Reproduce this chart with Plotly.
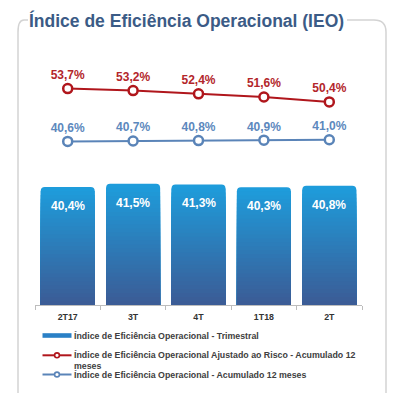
import plotly.graph_objects as go

categories = ["2T17", "3T", "4T", "1T18", "2T"]
ieo_trimestral = [40.4, 41.5, 41.3, 40.3, 40.8]
ieo_risco_12m = [53.7, 53.2, 52.4, 51.6, 50.4]
ieo_12m = [40.6, 40.7, 40.8, 40.9, 41.0]

name_trim = "Índice de Eficiência Operacional - Trimestral"
name_risco = "Índice de Eficiência Operacional Ajustado ao Risco - Acumulado 12<br>meses"
name_12m = "Índice de Eficiência Operacional - Acumulado 12 meses"

def fmt(v):
    return f"{v:.1f}%".replace(".", ",")

# page offset (default body margin) and window size
OFF = 8
WIN_W, WIN_H = 397, 393
FIG_W, FIG_H = WIN_W - OFF, WIN_H - OFF
# plot area in screen pixels
L, R, T, B = 35, 362, 60, 305
PW, PH = R - L, B - T

def px(x):
    return (x - L) / PW

def py(y):
    return (B - y) / PH

RED = "#B0161C"
BLUE_LINE = "#5A84B8"
LEG_BAR = "rgb(42,128,198)"
FONT = "Liberation Sans"

fig = go.Figure()

# gradient bars: overlaid layers (top light blue -> bottom dark blue)
top_rgb = (30, 156, 219)
bot_rgb = (59, 92, 150)
N = 30
for i in range(N):
    f = 1 - i / N
    t = i / (N - 1)
    c = tuple(round(top_rgb[k] + (bot_rgb[k] - top_rgb[k]) * t) for k in range(3))
    fig.add_trace(go.Bar(
        x=categories, y=[v * f for v in ieo_trimestral],
        name=name_trim if i == 0 else None,
        marker=dict(color=f"rgb{c}", line=dict(width=0),
                    cornerradius=4 if i == 0 else 0),
        showlegend=False, hoverinfo="skip", yaxis="y",
    ))

fig.add_trace(go.Scatter(
    x=categories, y=ieo_risco_12m, yaxis="y2", name=name_risco,
    mode="lines+markers+text", showlegend=False,
    text=[fmt(v) for v in ieo_risco_12m], textposition="top center",
    textfont=dict(color="#B3262B", size=12, family=FONT, weight="bold"),
    line=dict(color=RED, width=2),
    marker=dict(symbol="circle", size=9, color="white",
                line=dict(color=RED, width=2.5)),
))

fig.add_trace(go.Scatter(
    x=categories, y=ieo_12m, yaxis="y2", name=name_12m,
    mode="lines+markers+text", showlegend=False,
    text=[fmt(v) for v in ieo_12m], textposition="top center",
    textfont=dict(color="#5C88BD", size=12, family=FONT, weight="bold"),
    line=dict(color=BLUE_LINE, width=2),
    marker=dict(symbol="circle", size=9, color="white",
                line=dict(color=BLUE_LINE, width=2.5)),
))

# bar value labels
for c, v in zip(categories, ieo_trimestral):
    fig.add_annotation(
        x=c, y=v, xref="x", yref="y", yanchor="top", yshift=-10,
        text=fmt(v), showarrow=False,
        font=dict(color="white", size=12, family=FONT, weight="bold"),
    )

# title
fig.add_annotation(
    x=px(27), y=py(20), xref="paper", yref="paper", xanchor="left", yanchor="middle",
    text="Índice de Eficiência Operacional (IEO)", showarrow=False,
    font=dict(color="#3B5B86", size=17.5, family=FONT, weight="bold"),
)

# frame (rounded box, interrupted by the title)
rx, ry = 12 / PW, 12 / PH
x0, x1 = px(18), px(386)
y0, y1 = py(20), py(420)
frame_col = "#D3D3D3"
fig.add_shape(type="path", xref="paper", yref="paper",
              path=f"M {x0} {y1} L {x0} {y0 - ry} Q {x0} {y0} {x0 + rx/2} {y0} L {px(28)} {y0}",
              line=dict(color=frame_col, width=1.5))
fig.add_shape(type="path", xref="paper", yref="paper",
              path=f"M {px(347)} {y0} L {x1 - rx} {y0} Q {x1} {y0} {x1} {y0 - ry} L {x1} {y1}",
              line=dict(color=frame_col, width=1.5))

# legend (drawn as a key below the chart)
LEG_X0, LEG_X1, LEG_TX, LEG_MX = 42.5, 71.5, 72.5, 57
leg_font = dict(size=8.8, color="#404040", family=FONT, weight="bold")
legend_rows = [
    ("bar", LEG_BAR, name_trim, 335.5, 335.6),
    ("line", RED, name_risco, 355.3, 360.0),
    ("line", BLUE_LINE, name_12m, 374.5, 374.9),
]
for kind, col, label, sy, ty in legend_rows:
    if kind == "bar":
        fig.add_shape(type="rect", xref="paper", yref="paper",
                      x0=px(LEG_X0), x1=px(LEG_X1), y0=py(sy + 2.3), y1=py(sy - 2.3),
                      fillcolor=col, line=dict(width=0))
    else:
        fig.add_shape(type="line", xref="paper", yref="paper",
                      x0=px(LEG_X0), x1=px(LEG_X1), y0=py(sy), y1=py(sy),
                      line=dict(color=col, width=2))
        fig.add_shape(type="circle", xref="paper", yref="paper",
                      xsizemode="pixel", ysizemode="pixel",
                      xanchor=px(LEG_MX), yanchor=py(sy),
                      x0=-2.4, x1=2.4, y0=-2.4, y1=2.4,
                      fillcolor="white", line=dict(color=col, width=1.6))
    fig.add_annotation(
        x=px(LEG_TX), y=py(ty), xref="paper", yref="paper",
        xanchor="left", yanchor="middle", align="left",
        text=label, showarrow=False, font=leg_font, borderpad=0,
    )

fig.update_layout(
    width=FIG_W, height=FIG_H,
    margin=dict(l=L - OFF, r=FIG_W - (R - OFF), t=T - OFF, b=FIG_H - (B - OFF),
                autoexpand=False),
    paper_bgcolor="white", plot_bgcolor="white",
    barmode="overlay", bargap=0.175,
    font=dict(family=FONT, color="#333333"),
    xaxis=dict(
        type="category", showgrid=False, showline=True, linecolor="#BDBDBD", linewidth=1,
        ticks="outside", tickson="boundaries", ticklen=4, tickcolor="#BDBDBD",
        ticklabelstandoff=3,
        tickfont=dict(size=8.8, color="#333333", family=FONT, weight="bold"),
        fixedrange=True,
    ),
    yaxis=dict(range=[0, PH / 2.92], visible=False, showgrid=False),
    yaxis2=dict(range=[0, PH / 4.03], overlaying="y", visible=False, showgrid=False),
    showlegend=False,
)

fig.write_html("out.html")
